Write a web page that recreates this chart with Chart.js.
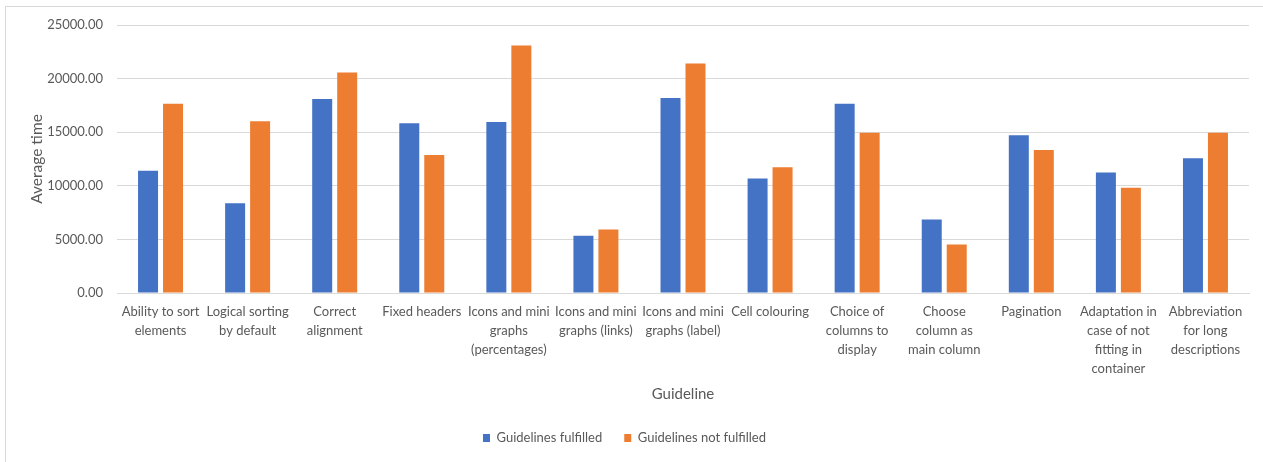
<!DOCTYPE html>
<html>
<head>
<meta charset="utf-8">
<script src="https://cdn.jsdelivr.net/npm/chart.js@4.4.1/dist/chart.umd.min.js"></script>
<style>
  html, body { margin: 0; padding: 0; background: #fff; overflow: hidden; }
  #moldura { position: absolute; left: 5px; top: 6px; width: 1300px; height: 500px;
             border-left: 1px solid #d9d9d9; border-top: 1px solid #d9d9d9; }
  #grafico { position: absolute; left: 0; top: 0; }
</style>
</head>
<body>
<div id="moldura"></div>
<canvas id="grafico" width="1263" height="462"></canvas>
<script>
const diretrizes = [
  ['Ability to sort', 'elements'],
  ['Logical sorting', 'by default'],
  ['Correct', 'alignment'],
  ['Fixed headers'],
  ['Icons and mini', 'graphs', '(percentages)'],
  ['Icons and mini', 'graphs (links)'],
  ['Icons and mini', 'graphs (label)'],
  ['Cell colouring'],
  ['Choice of', 'columns to', 'display'],
  ['Choose', 'column as', 'main column'],
  ['Pagination'],
  ['Adaptation in', 'case of not', 'fitting in', 'container'],
  ['Abbreviation', 'for long', 'descriptions']
];

const tempoCumpridas = [11400, 8380, 18100, 15830, 15950, 5330, 18200, 10690, 17660, 6860, 14710, 11250, 12560];
const tempoNaoCumpridas = [17660, 16020, 20560, 12870, 23085, 5920, 21400, 11720, 14950, 4520, 13340, 9810, 14950];

const ticksEixoY = [0, 5000, 10000, 15000, 20000, 25000];

const corTexto = '#595959';
const corGrade = '#d9d9d9';
const fonte = 'Lato';

const ctx = document.getElementById('grafico').getContext('2d');

new Chart(ctx, {
  type: 'bar',
  data: {
    labels: diretrizes,
    datasets: [
      {
        label: 'Guidelines fulfilled',
        data: tempoCumpridas,
        backgroundColor: '#4472c4',
        categoryPercentage: 0.574,
        barPercentage: 0.8
      },
      {
        label: 'Guidelines not fulfilled',
        data: tempoNaoCumpridas,
        backgroundColor: '#ed7d31',
        categoryPercentage: 0.574,
        barPercentage: 0.8
      }
    ]
  },
  options: {
    responsive: false,
    animation: false,
    layout: { padding: { left: 0, right: 14, top: 25, bottom: 7.5 } },
    plugins: {
      tooltip: { enabled: false },
      legend: {
        position: 'bottom',
        labels: {
          color: corTexto,
          font: { family: fonte, size: 13 },
          boxWidth: 7,
          boxHeight: 8,
          padding: 22
        }
      }
    },
    scales: {
      x: {
        grid: { display: false, drawTicks: false },
        border: { color: corGrade },
        ticks: {
          color: corTexto,
          font: { family: fonte, size: 13, lineHeight: 1.46 },
          padding: 9,
          maxRotation: 0,
          minRotation: 0,
          autoSkip: false
        },
        title: {
          display: true,
          text: 'Guideline',
          color: corTexto,
          font: { family: fonte, size: 15 },
          padding: { top: 0, bottom: 6 }
        },
        afterFit: escala => { escala.height = 116.5; }
      },
      y: {
        min: 0,
        max: 25000,
        afterBuildTicks: escala => { escala.ticks = ticksEixoY.map(v => ({ value: v })); },
        grid: { color: corGrade, drawTicks: false },
        border: { display: false },
        ticks: {
          color: corTexto,
          font: { family: fonte, size: 13 },
          padding: 14,
          callback: v => v.toFixed(2)
        },
        title: {
          display: true,
          text: 'Average time',
          color: corTexto,
          font: { family: fonte, size: 15.5 },
          padding: { top: 28, bottom: 0 }
        },
        afterFit: escala => { escala.width = 117; }
      }
    }
  }
});
</script>
</body>
</html>
